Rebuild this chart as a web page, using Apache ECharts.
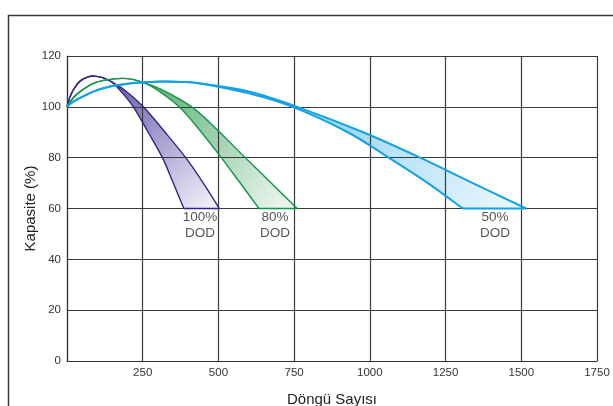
<!DOCTYPE html>
<html>
<head>
<meta charset="utf-8">
<script src="https://cdn.jsdelivr.net/npm/echarts@6/dist/echarts.min.js"></script>
<style>
html,body{margin:0;padding:0;background:#fff;}
#chart{width:613px;height:406px;}
</style>
</head>
<body>
<div id="chart"></div>
<script>
// ---- Data (cycles, capacity %) ----
const xTicksMax = 1750;
const xTickStep = 250;
const yTicksMax = 120;
const yTickStep = 20;

// 100% DOD
const dod100Rise  = [[0,100],[10,104],[25,107.5],[45,110.3],[70,111.8],[90,112.1],[115,111.6],[140,110.3],[150,109.6]];
const dod100Outer = [[150,109.6],[191,106.5],[252,100],[324,90],[392,80],[450,70],[503,60]];
const dod100Inner = [[150,109.6],[175,106.5],[219,100],[268,90],[315,80],[351,70],[386,60]];

// 80% DOD
const dod80Rise  = [[0,100],[20,103.5],[43,106],[87,109.2],[130,110.6],[181,111.2],[220,110.7],[262,109.1]];
const dod80Outer = [[262,109.1],[313,106.8],[412,100],[496,91],[580,81],[670,70.5],[760,60]];
const dod80Inner = [[262,109.1],[296,106.8],[370,100],[437,91],[500,81.5],[566,71],[634,60]];

// 50% DOD
const dod50Rise  = [[0,100],[20,102],[43,103.5],[87,106],[142,108],[200,109.1],[251,109.6],[320,110],[380,109.8],[440,109.2]];
const dod50Outer = [[440,109.2],[600,106],[760,100],[978,90],[1166,80],[1340,70],[1516,60]];
const dod50Inner = [[440,109.2],[600,105.3],[745,100],[924,90.2],[1056,80.5],[1188,70.3],[1307,60]];

const bandLabels = ['100%\nDOD', '80%\nDOD', '50%\nDOD'];
const bandLabelPos = [[439,53.5],[687,53.5],[1413,53.5]];

const xName = 'Döngü Sayısı';
const yName = 'Kapasite (%)';

// ---- Styles ----
const bands = [
  {rise: dod100Rise, outer: dod100Outer, inner: dod100Inner, line: '#2f2785', c0: '#665dab', c1: '#f6f5fb', w: 1.4},
  {rise: dod80Rise,  outer: dod80Outer,  inner: dod80Inner,  line: '#12954a', c0: '#5aaf75', c1: '#f5faf6', w: 1.4},
  {rise: dod50Rise,  outer: dod50Outer,  inner: dod50Inner,  line: '#14a2e2', c0: '#68c1ef', c1: '#f0f9fe', w: 2.0}
];

// Catmull-Rom -> cubic bezier path through pixel points (rendering-level smoothing)
function curveCmds(P, withMove) {
  let d = withMove ? ('M' + P[0][0] + ',' + P[0][1]) : ('L' + P[0][0] + ',' + P[0][1]);
  for (let i = 0; i < P.length - 1; i++) {
    const p0 = P[i - 1] || P[i], p1 = P[i], p2 = P[i + 1], p3 = P[i + 2] || P[i + 1];
    const c1x = p1[0] + (p2[0] - p0[0]) / 6, c1y = p1[1] + (p2[1] - p0[1]) / 6;
    const c2x = p2[0] - (p3[0] - p1[0]) / 6, c2y = p2[1] - (p3[1] - p1[1]) / 6;
    d += 'C' + c1x + ',' + c1y + ' ' + c2x + ',' + c2y + ' ' + p2[0] + ',' + p2[1];
  }
  return d;
}

const chart = echarts.init(document.getElementById('chart'), null, {renderer: 'canvas'});
const series = [];

bands.forEach(function (b) {
  const fullOuter = b.rise.concat(b.outer.slice(1));
  const fullInner = b.rise.concat(b.inner.slice(1));
  // fill (below grid lines)
  series.push({
    type: 'custom',
    z: -1,
    silent: true,
    data: [0],
    renderItem: function (params, api) {
      const O = fullOuter.map(function (p) { return api.coord(p); });
      const I = fullInner.map(function (p) { return api.coord(p); }).reverse();
      const d = curveCmds(O, true) + curveCmds(I, false) + 'Z';
      const s = api.coord(b.outer[0]);
      const e = api.coord(b.outer[b.outer.length - 1]);
      return {
        type: 'path',
        shape: {pathData: d},
        style: {
          fill: new echarts.graphic.LinearGradient(s[0], s[1], e[0], e[1], [
            {offset: 0, color: b.c0},
            {offset: 1, color: b.c1}
          ], true),
          stroke: null
        }
      };
    }
  });
  // strokes (above grid lines)
  series.push({
    type: 'custom',
    z: 3,
    silent: true,
    data: [0],
    renderItem: function (params, api) {
      const O = fullOuter.map(function (p) { return api.coord(p); });
      const I = fullInner.map(function (p) { return api.coord(p); });
      const a = api.coord(b.inner[b.inner.length - 1]);
      const e = api.coord(b.outer[b.outer.length - 1]);
      const st = {fill: null, stroke: b.line, lineWidth: b.w};
      return {
        type: 'group',
        children: [
          {type: 'path', shape: {pathData: curveCmds(O, true)}, style: st},
          {type: 'path', shape: {pathData: curveCmds(I, true)}, style: st},
          {type: 'line', shape: {x1: a[0], y1: a[1], x2: e[0], y2: e[1]}, style: st}
        ]
      };
    }
  });
});

series.push({
  type: 'scatter',
  symbolSize: 0,
  data: bandLabelPos.map(function (p, i) { return {value: p, name: bandLabels[i]}; }),
  label: {
    show: true,
    position: 'inside',
    formatter: function (p) { return p.name; },
    fontFamily: 'Liberation Sans, Arial, sans-serif',
    fontSize: 13.5,
    lineHeight: 16,
    color: '#2a2a2a',
    align: 'center'
  },
  z: 4
});

const option = {
  animation: false,
  backgroundColor: '#fff',
  graphic: [{
    type: 'rect',
    shape: {x: 8.5, y: 15.5, width: 700, height: 500},
    style: {fill: 'none', stroke: '#3a3a3a', lineWidth: 1.5},
    z: -10,
    silent: true
  }],
  grid: {left: 67, top: 56, right: 16, bottom: 45, containLabel: false, outerBoundsMode: 'none'},
  xAxis: {
    type: 'value',
    min: 0, max: xTicksMax, interval: xTickStep,
    name: xName,
    nameLocation: 'middle',
    nameGap: 31,
    nameMoveOverlap: false,
    nameTextStyle: {fontFamily: 'Liberation Sans, Arial, sans-serif', fontSize: 15, color: '#222'},
    axisLine: {show: true, lineStyle: {color: '#333', width: 1.2}},
    axisTick: {show: false},
    axisLabel: {
      showMinLabel: false,
      margin: 6,
      formatter: function (v) { return String(v); },
      fontFamily: 'Liberation Sans Narrow, Liberation Sans, Arial, sans-serif',
      fontSize: 11.5,
      color: '#333'
    },
    splitLine: {show: true, lineStyle: {color: '#3a3a3a', width: 1.2}}
  },
  yAxis: {
    type: 'value',
    min: 0, max: yTicksMax, interval: yTickStep,
    name: yName,
    nameLocation: 'middle',
    nameGap: 29,
    nameMoveOverlap: false,
    nameTextStyle: {fontFamily: 'Liberation Sans, Arial, sans-serif', fontSize: 15, color: '#222'},
    axisLine: {show: true, lineStyle: {color: '#333', width: 1.2}},
    axisTick: {show: false},
    axisLabel: {
      margin: 6,
      formatter: function (v) { return String(v); },
      fontFamily: 'Liberation Sans Narrow, Liberation Sans, Arial, sans-serif',
      fontSize: 11.5,
      color: '#333'
    },
    splitLine: {show: true, lineStyle: {color: '#3a3a3a', width: 1.2}}
  },
  series: series
};

chart.setOption(option);
</script>
</body>
</html>
